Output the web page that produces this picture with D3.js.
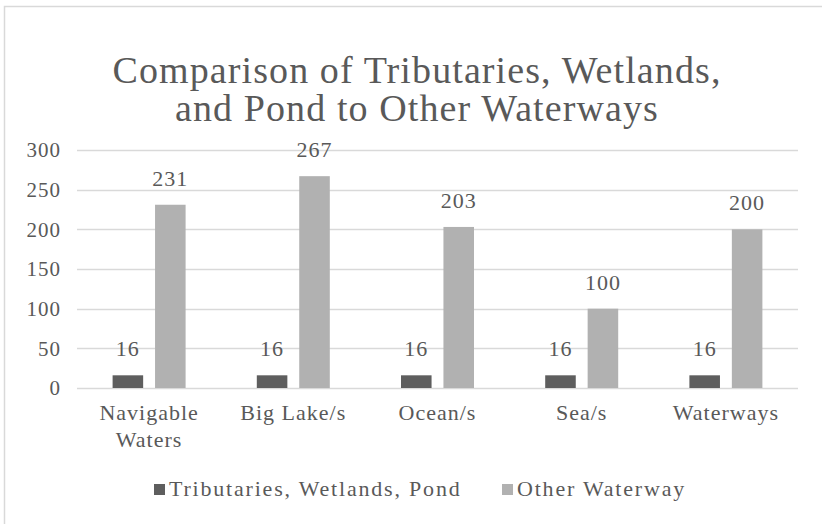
<!DOCTYPE html>
<html>
<head>
<meta charset="utf-8">
<script src="https://cdn.jsdelivr.net/npm/d3@7"></script>
<style>
  body { margin: 0; background: #fff; }
</style>
</head>
<body>
<div id="chart"></div>
<script>
var categories = [["Navigable", "Waters"], ["Big Lake/s"], ["Ocean/s"], ["Sea/s"], ["Waterways"]];
var seriesNames = ["Tributaries, Wetlands, Pond", "Other Waterway"];
var tributaries = [16, 16, 16, 16, 16];
var otherWaterway = [231, 267, 203, 100, 200];
var yTicks = [0, 50, 100, 150, 200, 250, 300];
var titleLines = ["Comparison of Tributaries, Wetlands,", "and Pond to Other Waterways"];
var colors = ["#5e5e5e", "#b1b1b1"];

var width = 822, height = 524;
var margin = { left: 77, right: 24, top: 150, bottom: 136 };
var fontName = "Liberation Serif";
var textColor = "#595959";

var svg = d3.select("#chart").append("svg")
   .attr("width", width)
   .attr("height", height);

// chart border (only top/left visible in the reference)
svg.append("rect")
   .attr("x", 4.5).attr("y", 6.5)
   .attr("width", 840).attr("height", 540)
   .attr("fill", "#fff")
   .attr("stroke", "#d9d9d9")
   .attr("stroke-width", 1.5);

function bodyText(sel, size, spacing) {
   return sel.attr("font-family", fontName)
      .attr("font-size", size)
      .attr("letter-spacing", spacing == null ? 1 : spacing)
      .attr("fill", textColor);
}

// title
var title = bodyText(svg.append("text").attr("text-anchor", "middle"), 38, 1.1);
title.selectAll("tspan")
   .data(titleLines)
   .enter().append("tspan")
   .attr("x", 417)
   .attr("y", function(d, i) { return 83 + i * 38; })
   .text(function(d) { return d; });

var x0 = d3.scaleBand()
   .domain(d3.range(categories.length))
   .range([margin.left, width - margin.right]);

var x1 = d3.scaleBand()
   .domain([0, 1])
   .range([0, 73])
   .paddingInner(0.28);

var y = d3.scaleLinear()
   .domain([0, 300])
   .range([height - margin.bottom, margin.top]);

// gridlines
svg.append("g")
   .selectAll("line")
   .data(yTicks)
   .enter().append("line")
   .attr("x1", margin.left).attr("x2", width - margin.right)
   .attr("y1", function(d) { return Math.round(y(d)) + 0.5; })
   .attr("y2", function(d) { return Math.round(y(d)) + 0.5; })
   .attr("stroke", "#d9d9d9")
   .attr("stroke-width", 1.5);

// y axis labels
var yAxis = svg.append("g")
   .attr("transform", "translate(" + (margin.left - 16) + ",0)")
   .call(d3.axisLeft(y).tickValues(yTicks).tickSize(0).tickPadding(0));
yAxis.select(".domain").remove();
bodyText(yAxis, 21);
yAxis.selectAll("text").attr("fill", textColor);

var series = [tributaries, otherWaterway];
var groups = svg.append("g").selectAll("g")
   .data(categories)
   .enter().append("g")
   .attr("transform", function(d, i) {
      return "translate(" + (x0(i) + x0.bandwidth() / 2 - 36.5) + ",0)";
   });

groups.selectAll("rect")
   .data(function(d, i) { return series.map(function(s, k) { return { k: k, v: s[i] }; }); })
   .enter().append("rect")
   .attr("x", function(d) { return x1(d.k); })
   .attr("width", x1.bandwidth())
   .attr("y", function(d) { return y(d.v); })
   .attr("height", function(d) { return y(0) - y(d.v); })
   .attr("fill", function(d) { return colors[d.k]; });

bodyText(groups.selectAll("text.val")
   .data(function(d, i) { return series.map(function(s, k) { return { k: k, v: s[i] }; }); })
   .enter().append("text")
   .attr("class", "val")
   .attr("text-anchor", "middle")
   .attr("x", function(d) { return x1(d.k) + x1.bandwidth() / 2; })
   .attr("y", function(d) { return y(d.v) - 19; }), 22)
   .text(function(d) { return d.v; });

// category labels
var catLabels = bodyText(svg.append("g").selectAll("text")
   .data(categories)
   .enter().append("text")
   .attr("text-anchor", "middle")
   .attr("x", function(d, i) { return x0(i) + x0.bandwidth() / 2; })
   .attr("y", 420), 22);
catLabels.selectAll("tspan")
   .data(function(d) { return d; })
   .enter().append("tspan")
   .attr("x", function() { return d3.select(this.parentNode).attr("x"); })
   .attr("dy", function(d, j) { return j === 0 ? 0 : 27; })
   .text(function(d) { return d; });

// legend
var legendX = [154, 502];
var legend = svg.append("g").selectAll("g")
   .data(seriesNames)
   .enter().append("g")
   .attr("transform", function(d, i) { return "translate(" + legendX[i] + ",484)"; });
legend.append("rect")
   .attr("width", 11).attr("height", 11)
   .attr("fill", function(d, i) { return colors[i]; });
bodyText(legend.append("text")
   .attr("x", 15).attr("y", 12), 22, 1.8)
   .text(function(d) { return d; });
</script>
</body>
</html>
